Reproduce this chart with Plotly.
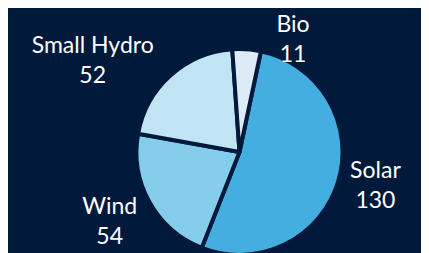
import plotly.graph_objects as go

labels = ["Solar", "Wind", "Small Hydro", "Bio"]
values = [130, 54, 52, 11]
colors = ["#45AEE0", "#86CDEC", "#C1E4F5", "#DDEBF8"]

BG = "#011A3C"
W, H = 429, 253


def dom(cx, cy, r):
    return dict(x=[(cx - r) / W, (cx + r) / W], y=[(H - cy - r) / H, (H - cy + r) / H])


common = dict(labels=labels, values=values, sort=False, direction="clockwise",
              rotation=12, showlegend=False, automargin=False)
font = dict(color="white", size=23, family="Lato")
clear = dict(colors=["rgba(0,0,0,0)"] * 4, line=dict(width=0))

fig = go.Figure()
# visible pie
fig.add_trace(go.Pie(**common, marker=dict(colors=colors, line=dict(color=BG, width=4)),
                     textinfo="none", domain=dom(231.5, 144, 103)))
# label layers (transparent)
fig.add_trace(go.Pie(**common, marker=clear, texttemplate="%{label}<br>%{value}",
                     textposition=["outside", "none", "outside", "none"], textfont=font,
                     hoverinfo="skip", domain=dom(229, 144, 103)))
fig.add_trace(go.Pie(**common, marker=clear, texttemplate="%{label}<br>%{value}",
                     textposition=["none", "none", "none", "outside"], textfont=font,
                     hoverinfo="skip", domain=dom(248.4, 139, 80)))
fig.add_trace(go.Pie(**common, marker=clear, texttemplate="%{label}<br>%{value}",
                     textposition=["none", "outside", "none", "none"], textfont=font,
                     hoverinfo="skip", domain=dom(203, 172, 68)))
fig.update_layout(
    width=W, height=H,
    margin=dict(l=0, r=0, t=0, b=0, autoexpand=False),
    paper_bgcolor=BG,
    plot_bgcolor=BG,
)
fig.write_html("out.html")
